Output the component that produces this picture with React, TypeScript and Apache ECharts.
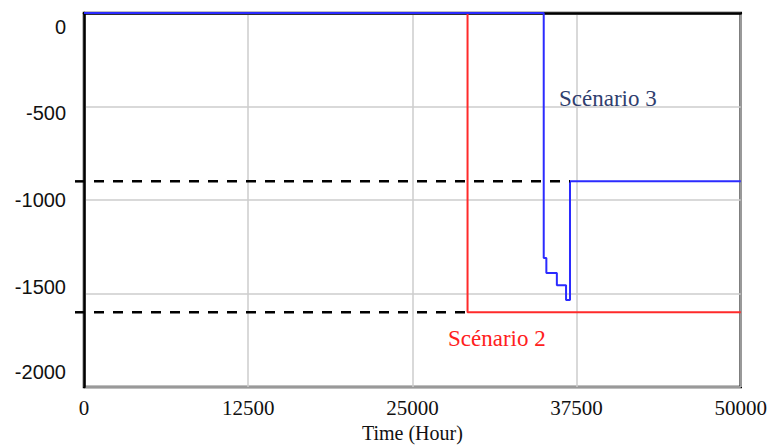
import React, { useEffect, useRef } from "react";
import * as echarts from "echarts";

// x-axis ticks (hours) and y-axis ticks
const xTicks = [0, 12500, 25000, 37500, 50000];
const yTicks = [0, -500, -1000, -1500, -2000];

// Scénario 2 (red)
const scenario2: [number, number][] = [
  [0, 0],
  [29200, 0],
  [29200, -1600],
  [50000, -1600],
];

// Scénario 3 (blue)
const scenario3: [number, number][] = [
  [0, 0],
  [35000, 0],
  [35000, -1310],
  [35200, -1310],
  [35200, -1390],
  [36000, -1390],
  [36000, -1455],
  [36700, -1455],
  [36700, -1535],
  [37000, -1535],
  [37000, -900],
  [50000, -900],
];

// reference (dashed) levels
const refUpper: [number, number][] = [
  [0, -900],
  [37000, -900],
];
const refLower: [number, number][] = [
  [0, -1600],
  [29200, -1600],
];

const labels = [
  { text: "Scénario 3", color: "#2f3e6e", x: 559, y: 98 },
  { text: "Scénario 2", color: "#ff2020", x: 448, y: 338 },
];

export default function App() {
  const ref = useRef<HTMLDivElement>(null);
  useEffect(() => {
    if (!ref.current) return;
    const chart = echarts.init(ref.current, null, { renderer: "svg" });
    const yFont = { fontFamily: "Liberation Sans", fontSize: 20, color: "#111" };
    const dashStyle = { color: "#000", width: 2.5, type: [10, 9], dashOffset: 9 };
    chart.setOption({
      animation: false,
      backgroundColor: "#fff",
      grid: {
        left: 84,
        right: 29,
        top: 13,
        bottom: 58,
        show: true,
        borderColor: "#000",
        borderWidth: 2.5,
      },
      xAxis: {
        type: "value",
        min: xTicks[0],
        max: xTicks[xTicks.length - 1],
        interval: xTicks[1] - xTicks[0],
        name: "Time (Hour)",
        nameLocation: "middle",
        nameGap: 34,
        nameTextStyle: { fontFamily: "Liberation Serif", fontSize: 20, color: "#111" },
        axisLine: { show: true, lineStyle: { color: "#000", width: 2.5 } },
        axisTick: { show: false },
        axisLabel: {
          margin: 10,
          fontFamily: "Liberation Serif",
          fontSize: 21,
          color: "#111",
          formatter: (v: number) => String(v),
        },
        splitLine: { show: true, lineStyle: { color: "#cccccc", width: 1.5 } },
      },
      yAxis: {
        type: "value",
        min: yTicks[yTicks.length - 1],
        max: yTicks[0],
        interval: 500,
        axisLine: { show: true, lineStyle: { color: "#000", width: 2.5 } },
        axisTick: { show: false },
        axisLabel: {
          margin: 18,
          ...yFont,
          formatter: (v: number) => {
            if (v === 0) return "{a|0}";
            if (v === -500) return "{b|-500}";
            if (v === -1500) return "{c|-1500}";
            if (v === -2000) return "{d|-2000}";
            return String(v);
          },
          rich: {
            a: { ...yFont, padding: [28, 0, 0, 0] },
            b: { ...yFont, padding: [12, 0, 0, 0] },
            c: { ...yFont, padding: [0, 0, 14, 0] },
            d: { ...yFont, padding: [0, 0, 30, 0] },
          },
        },
        splitLine: { show: true, lineStyle: { color: "#cccccc", width: 1.5 } },
      },
      series: [
        {
          name: "Scénario 2",
          type: "line",
          data: scenario2,
          symbol: "none",
          lineStyle: { color: "#ff2a2a", width: 2 },
          z: 2,
        },
        {
          name: "Scénario 3",
          type: "line",
          data: scenario3,
          symbol: "none",
          lineStyle: { color: "#2b2bff", width: 2 },
          z: 3,
        },
        {
          name: "ref1",
          type: "line",
          data: refUpper,
          symbol: "none",
          lineStyle: dashStyle,
          z: 4,
        },
        {
          name: "ref2",
          type: "line",
          data: refLower,
          symbol: "none",
          lineStyle: dashStyle,
          z: 4,
        },
      ],
    });
    // short dash stubs crossing the y axis, positioned through the axis scales
    const stubs = [refUpper[0], refLower[0]].map((p) => {
      const [px, py] = chart.convertToPixel({ gridIndex: 0 }, p) as number[];
      return {
        type: "line",
        shape: { x1: px - 9, y1: py, x2: px + 1, y2: py },
        style: { stroke: "#000", lineWidth: 2.5 },
        z: 10,
      };
    });
    chart.setOption({
      graphic: [
        ...stubs,
        ...labels.map((l) => ({
          type: "text",
          x: l.x,
          y: l.y,
          style: {
            text: l.text,
            fill: l.color,
            fontFamily: "Liberation Serif",
            fontSize: 23,
            verticalAlign: "middle",
            align: "left",
          },
          z: 10,
        })),
      ],
    });
    return () => chart.dispose();
  }, []);
  return (
    <div
      ref={ref}
      style={{ position: "fixed", left: 0, top: 0, width: 770, height: 448 }}
    />
  );
}
